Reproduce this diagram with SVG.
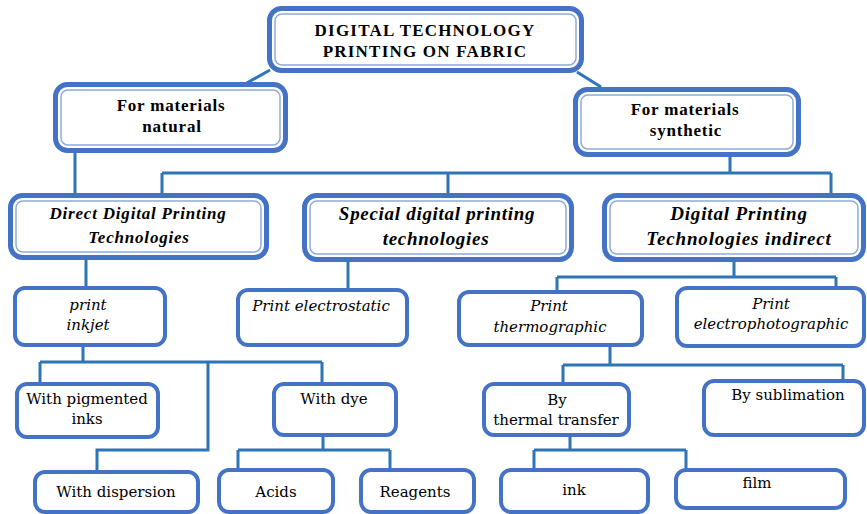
<svg xmlns="http://www.w3.org/2000/svg" width="867" height="514" viewBox="0 0 867 514">
<style>
.o{fill:#fff;stroke:#4472C4;stroke-width:5}
.i{fill:none;stroke:#8FAADC;stroke-width:1.5}
.s{fill:#fff;stroke:#4472C4;stroke-width:4}
.c{fill:none;stroke:#2E75B6;stroke-width:3}
text{fill:#000;text-anchor:middle}
.b{font-family:"Liberation Serif",serif;font-weight:bold;font-size:17px;letter-spacing:0.8px}
.t{letter-spacing:1.2px}
.bi{font-family:"Liberation Serif",serif;font-weight:bold;font-style:italic;font-size:17px;letter-spacing:0.8px}
.bl{font-size:19px}
.it{font-family:"DejaVu Serif","Liberation Serif",serif;font-style:italic;font-size:15px}
.r{font-family:"DejaVu Serif","Liberation Serif",serif;font-size:15px}
</style>
<rect width="867" height="514" fill="#fff"/>
<g id="connectors">
<path class="c" d="M270,70 L245,84"/>
<path class="c" d="M577,72 L601,87"/>
<path class="c" d="M75,153 V195"/>
<path class="c" d="M730,157 V173 M162,173 H831 M162,173 V195 M448,173 V195 M831,173 V195"/>
<path class="c" d="M86,260 V288"/>
<path class="c" d="M348,262 V290"/>
<path class="c" d="M734,262 V277 M557,277 H836 M557,277 V292 M836,277 V288"/>
<path class="c" d="M83,347 V362 M40,362 H322 M40,362 V384 M322,362 V384 M208,362 V450 H97 V472"/>
<path class="c" d="M323,437 V450 M238,450 H390 M238,450 V470 M390,450 V470"/>
<path class="c" d="M610,347 V365 M563,365 H843 M563,365 V384 M843,365 V381"/>
<path class="c" d="M570,437 V450 M534,450 H686 M534,450 V470 M686,450 V470"/>
</g>
<g id="root">
<rect class="o" x="269.5" y="8.5" width="312" height="62" rx="12"/>
<rect class="i" x="275" y="14" width="301" height="51" rx="7"/>
<text class="b t" x="425" y="36">DIGITAL TECHNOLOGY</text>
<text class="b t" x="425" y="57">PRINTING ON FABRIC</text>
</g>
<g id="natural">
<rect class="o" x="55.5" y="84.5" width="230" height="66" rx="12"/>
<rect class="i" x="61" y="90" width="219" height="55" rx="7"/>
<text class="b" x="171" y="111">For materials</text>
<text class="b" x="172" y="132">natural</text>
</g>
<g id="synthetic">
<rect class="o" x="575.5" y="89.5" width="223" height="65" rx="12"/>
<rect class="i" x="581" y="95" width="212" height="54" rx="7"/>
<text class="b" x="685" y="115">For materials</text>
<text class="b" x="686" y="136">synthetic</text>
</g>
<g id="direct">
<rect class="o" x="10.5" y="195.5" width="256" height="62" rx="12"/>
<rect class="i" x="16" y="201" width="245" height="51" rx="7"/>
<text class="bi" x="138" y="219">Direct Digital Printing</text>
<text class="bi" x="139" y="243">Technologies</text>
</g>
<g id="special">
<rect class="o" x="304.5" y="195.5" width="267" height="64" rx="12"/>
<rect class="i" x="310" y="201" width="256" height="53" rx="7"/>
<text class="bi bl" x="437" y="220" style="letter-spacing:0.7px">Special digital printing</text>
<text class="bi bl" x="436" y="245" style="letter-spacing:0.7px">technologies</text>
</g>
<g id="indirect">
<rect class="o" x="604.5" y="195.5" width="259" height="64" rx="12"/>
<rect class="i" x="610" y="201" width="248" height="53" rx="7"/>
<text class="bi bl" x="739" y="220" style="letter-spacing:0.85px">Digital Printing</text>
<text class="bi bl" x="739" y="245" style="letter-spacing:0.85px">Technologies indirect</text>
</g>
<g id="inkjet">
<rect class="s" x="15" y="288" width="150" height="57" rx="10"/>
<text class="it" x="88" y="310">print</text>
<text class="it" x="88" y="330">inkjet</text>
</g>
<g id="electrostatic">
<rect class="s" x="238" y="290" width="169" height="55" rx="10"/>
<text class="it" x="321" y="311">Print electrostatic</text>
</g>
<g id="thermographic">
<rect class="s" x="459" y="292" width="183" height="53" rx="10"/>
<text class="it" x="549" y="311">Print</text>
<text class="it" x="550" y="332">thermographic</text>
</g>
<g id="electrophotographic">
<rect class="s" x="677" y="288" width="187" height="58" rx="10"/>
<text class="it" x="771" y="309">Print</text>
<text class="it" x="771" y="329">electrophotographic</text>
</g>
<g id="pigmented">
<rect class="s" x="17" y="384" width="141" height="53" rx="10"/>
<text class="r" x="87" y="404">With pigmented</text>
<text class="r" x="87" y="424">inks</text>
</g>
<g id="dye">
<rect class="s" x="274" y="384" width="122" height="51" rx="10"/>
<text class="r" x="334" y="404">With dye</text>
</g>
<g id="transfer">
<rect class="s" x="484" y="384" width="145" height="51" rx="10"/>
<text class="r" x="557" y="405">By</text>
<text class="r" x="556" y="425">thermal transfer</text>
</g>
<g id="sublimation">
<rect class="s" x="704" y="381" width="160" height="54" rx="10"/>
<text class="r" x="788" y="400">By sublimation</text>
</g>
<g id="dispersion">
<rect class="s" x="35" y="472" width="163" height="40" rx="10"/>
<text class="r" x="116" y="497">With dispersion</text>
</g>
<g id="acids">
<rect class="s" x="219" y="470" width="114" height="42" rx="10"/>
<text class="r" x="276" y="497">Acids</text>
</g>
<g id="reagents">
<rect class="s" x="361" y="470" width="113" height="42" rx="10"/>
<text class="r" x="415" y="497">Reagents</text>
</g>
<g id="ink">
<rect class="s" x="501" y="470" width="147" height="42" rx="10"/>
<text class="r" x="574" y="495">ink</text>
</g>
<g id="film">
<rect class="s" x="676" y="470" width="169" height="38" rx="10"/>
<text class="r" x="757" y="488">film</text>
</g>
</svg>
